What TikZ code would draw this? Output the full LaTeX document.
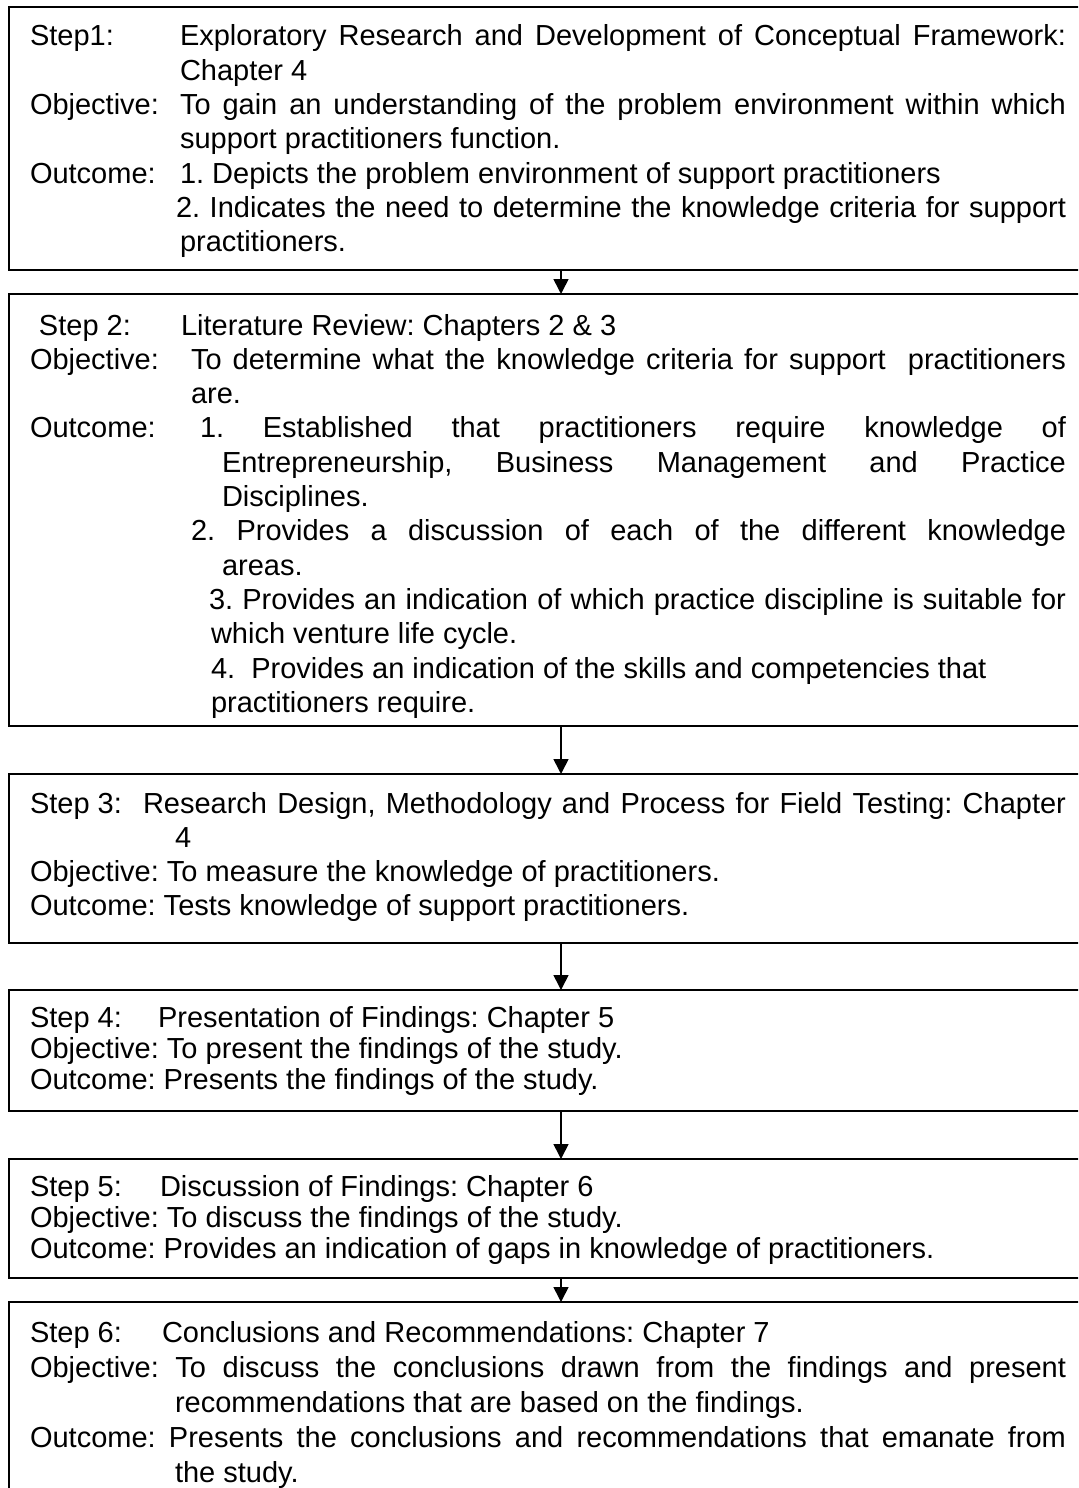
\documentclass[tikz,border=0pt]{standalone}
\usepackage{fontspec}
\setmainfont{Liberation Sans}
\usetikzlibrary{arrows.meta,positioning}
\frenchspacing

\begin{document}
\begin{tikzpicture}[x=0.5pt, y=-0.5pt,
    font=\fontsize{14.5pt}{17.15pt}\selectfont,
    stepbox/.style={draw, line width=1pt, anchor=north west, minimum width=552pt, inner sep=0pt, outer sep=0pt},
    lbl/.style={anchor=base west, inner sep=0pt, outer sep=0pt},
    txt/.style={lbl, align=justify},
    flow/.style={-{Triangle[width=7.5pt, length=7.5pt]}, line width=0.8pt}]
    \clip (0,0) rectangle (1078,1488);

    \node[stepbox, minimum height=131.5pt] (box1) at (9,7) {};
    \node[lbl] (step1) at (30,46) {Step1:};
    \node[txt, text width=443pt] (title1) at (180,46) {Exploratory Research and Development of Conceptual Framework:\linebreak Chapter 4};
    \node[lbl] (obj1) at (30,114.6) {Objective:};
    \node[txt, text width=443pt] (objtxt1) at (180,114.6) {To gain an understanding of the problem environment within which\linebreak support practitioners function.};
    \node[lbl] (out1) at (30,183.2) {Outcome:};
    \node[lbl] (outa1) at (180,183.2) {1. Depicts the problem environment of support practitioners};
    \node[txt, text width=443pt] (outb1) at (180,217.5) {\hspace*{-2pt}2. Indicates the need to determine the knowledge criteria for support\linebreak practitioners.};

    \node[stepbox, minimum height=216pt] (box2) at (9,294) {};
    \node[lbl] (step2) at (39,335) {Step 2:};
    \node[lbl] (title2) at (181,335) {Literature Review: Chapters 2 \& 3};
    \node[lbl] (obj2) at (30,369.3) {Objective:};
    \node[txt, text width=437.5pt] (objtxt2) at (191,369.3) {To determine what the knowledge criteria for support\ \ practitioners\linebreak are.};
    \node[lbl] (out2) at (30,437.9) {Outcome:};
    \node[txt, text width=422pt] (outa2) at (222,437.9) {\hspace*{-11pt}1. Established that practitioners require knowledge of\linebreak Entrepreneurship, Business Management and Practice\linebreak Disciplines.};
    \node[txt, text width=422pt] (outb2) at (222,540.8) {\hspace*{-15.5pt}2. Provides a discussion of each of the different knowledge\linebreak areas.};
    \node[txt, text width=427.5pt] (outc2) at (211,609.4) {\hspace*{-1pt}3. Provides an indication of which practice discipline is suitable for\linebreak which venture life cycle.};
    \node[txt, text width=427.5pt] (outd2) at (211,678) {4.\ \ Provides an indication of the skills and competencies that\newline practitioners require.};

    \node[stepbox, minimum height=84.5pt] (box3) at (9,774) {};
    \node[lbl] (step3) at (30,813) {Step 3:};
    \node[txt, text width=445.5pt, font=\fontsize{14.5pt}{17pt}\selectfont] (title3) at (175,813) {\hspace*{-16pt}Research Design, Methodology and Process for Field Testing: Chapter\linebreak 4};
    \node[lbl] (obj3) at (30,881) {Objective: To measure the knowledge of practitioners.};
    \node[lbl] (out3) at (30,915) {Outcome: Tests knowledge of support practitioners.};

    \node[stepbox, minimum height=60.5pt] (box4) at (9,990) {};
    \node[lbl] (step4) at (30,1027) {Step 4:};
    \node[lbl] (title4) at (158,1027) {Presentation of Findings: Chapter 5};
    \node[lbl] (obj4) at (30,1058) {Objective: To present the findings of the study.};
    \node[lbl] (out4) at (30,1089) {Outcome: Presents the findings of the study.};

    \node[stepbox, minimum height=59.5pt] (box5) at (9,1159) {};
    \node[lbl] (step5) at (30,1196) {Step 5:};
    \node[lbl] (title5) at (160,1196) {Discussion of Findings: Chapter 6};
    \node[lbl] (obj5) at (30,1227) {Objective: To discuss the findings of the study.};
    \node[lbl] (out5) at (30,1258) {Outcome: Provides an indication of gaps in knowledge of practitioners.};

    \node[stepbox, minimum height=120pt] (box6) at (9,1302) {};
    \node[lbl] (step6) at (30,1342) {Step 6:};
    \node[lbl] (title6) at (162,1342) {Conclusions and Recommendations: Chapter 7};
    \node[txt, text width=445.5pt, font=\fontsize{14.5pt}{17.5pt}\selectfont] (obj6) at (175,1377) {\hspace*{-72.5pt}Objective: To discuss the conclusions drawn from the findings and present\linebreak recommendations that are based on the findings.};
    \node[txt, text width=445.5pt, font=\fontsize{14.5pt}{17.5pt}\selectfont] (out6) at (175,1447) {\hspace*{-72.5pt}Outcome: Presents the conclusions and recommendations that emanate from\linebreak the study.};

    \foreach \a/\b in {box1/box2, box2/box3, box3/box4, box4/box5, box5/box6}
        \draw[flow] (\a.south) -- (\b.north);
\end{tikzpicture}
\end{document}
